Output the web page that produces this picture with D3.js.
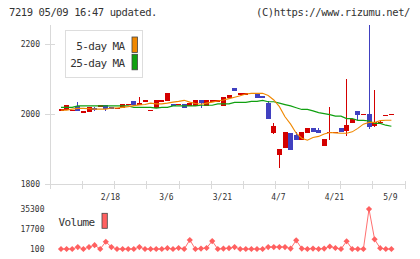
<!DOCTYPE html>
<html>
<head>
<meta charset="utf-8">
<script src="https://cdn.jsdelivr.net/npm/d3@7"></script>
<style>
  html, body { margin: 0; padding: 0; background: #fff; }
  svg { display: block; }
  text { font-family: 'DejaVu Sans Mono', monospace; fill: #333; }
</style>
</head>
<body>
<svg id="chart" width="420" height="259"></svg>
<script>
// daily bars, oldest first
let open = [2013, 2011, 2012, 2022, 2003, 2006, 2017, 2021, 2026, 2020,
  2015, 2017, 2029, 2037, 2026, 2039, 2011, 2016, 2039, 2038,
  2029, 2029, 2029, 2023, 2023, 2040, 2023, 2039, 2039, 2024,
  2046, 2074, 2059, 2059, 2060, 2057, 2051, 2031, 1946, 1883,
  1903, 1946, 1940, 1926, 1946, 1960, 1954, 1909, 1948, 1949,
  1960, 1951, 1974, 2009, 2000, 2000, 1966, 1974, 1997, 2000]
let high = [2013, 2026, 2012, 2035, 2009, 2020, 2021, 2026, 2026, 2020,
  2018, 2029, 2029, 2037, 2049, 2039, 2011, 2040, 2039, 2060,
  2029, 2029, 2029, 2031, 2040, 2040, 2040, 2039, 2039, 2049,
  2054, 2074, 2059, 2059, 2060, 2057, 2051, 2037, 1974, 1900,
  1949, 1946, 1949, 1949, 1960, 1960, 1960, 1929, 2020, 1949,
  1960, 2100, 1986, 2009, 2000, 2254, 2069, 1980, 1997, 2000]
let low = [2013, 2011, 2012, 2009, 2003, 2006, 2009, 2021, 2008, 2015,
  2015, 2017, 2029, 2027, 2026, 2039, 2011, 2016, 2039, 2038,
  2023, 2029, 2017, 2023, 2023, 2017, 2023, 2039, 2039, 2024,
  2046, 2066, 2059, 2059, 2056, 2046, 2046, 1986, 1943, 1845,
  1903, 1897, 1926, 1926, 1946, 1949, 1946, 1909, 1926, 1949,
  1949, 1937, 1974, 1983, 2000, 1957, 1963, 1971, 1997, 2000]
let close = [2013, 2026, 2012, 2009, 2009, 2020, 2012, 2026, 2013, 2015,
  2018, 2029, 2029, 2027, 2031, 2039, 2011, 2040, 2039, 2060,
  2023, 2029, 2017, 2031, 2040, 2031, 2040, 2039, 2039, 2049,
  2054, 2066, 2059, 2059, 2056, 2046, 2046, 1986, 1966, 1900,
  1949, 1897, 1926, 1949, 1960, 1949, 1946, 1929, 1950, 1949,
  1949, 1969, 1986, 1997, 2000, 1963, 1977, 1977, 1997, 2000]
let ma5 = [2011, 2011, 2014, 2016, 2016, 2015, 2014, 2014, 2014, 2017,
  2017, 2019, 2021, 2024, 2026, 2027, 2031, 2029, 2029, 2031,
  2034, 2036, 2039, 2034, 2030, 2028, 2031, 2034, 2037, 2040,
  2044, 2048, 2052, 2057, 2059, 2059, 2059, 2053, 2040, 2021,
  1992, 1971, 1945, 1931, 1925, 1933, 1936, 1943, 1947, 1946,
  1945, 1945, 1949, 1959, 1971, 1976, 1976, 1981, 1982, 1982]
let ma25 = [2019, 2019, 2019, 2023, 2023, 2023, 2023, 2023, 2023, 2023,
  2023, 2023, 2023, 2019, 2019, 2019, 2019, 2017, 2019, 2019,
  2023, 2023, 2023, 2023, 2023, 2025, 2025, 2025, 2029, 2029,
  2029, 2033, 2033, 2033, 2036, 2036, 2039, 2035, 2035, 2031,
  2027, 2023, 2018, 2013, 2013, 2009, 2004, 2001, 1998, 1994,
  1994, 1987, 1987, 1982, 1982, 1980, 1973, 1973, 1968, 1965]
let volume = [100, 100, 100, 1800, 100, 1800, 3500, 100, 6500, 1800,
  100, 100, 100, 100, 1800, 100, 100, 100, 100, 800,
  100, 1000, 100, 8000, 100, 500, 1000, 7100, 100, 500,
  800, 1800, 100, 100, 100, 100, 100, 1800, 1800, 1800,
  1800, 500, 7700, 500, 100, 500, 100, 500, 2300, 1000,
  100, 6900, 100, 100, 100, 35200, 8600, 800, 100, 100]

let dateLabels = ['2/18', '3/6', '3/21', '4/7', '4/21', '5/9']
let dateIdx = [9, 19, 29, 39, 49, 59]
let priceTicks = [1800, 2000, 2200]
let volTicks = [100, 17700, 35300]

let colors = {up: '#d40000', down: '#4040c0', ma5: '#f08800', ma25: '#10a010', vol: '#ff6060', axis: '#d9d9d9'}

let svg = d3.select('#chart')
let n = close.length

let x = d3.scaleLinear().domain([0, n - 1]).range([61, 391.4])
let y = d3.scaleLinear().domain([1800, 2200]).range([184, 44])
let yv = d3.scaleLinear().domain([100, 35300]).range([249, 209])
let grid = d3.scaleLinear().domain([0, 11]).range([50, 405])

// header
svg.append('text').attr('x', 9).attr('y', 16)
  .style('font-size', '10.5px').style('letter-spacing', '-0.4px')
  .text('7219 05/09 16:47 updated.')
svg.append('text').attr('x', 410).attr('y', 16).attr('text-anchor', 'end')
  .style('font-size', '10.5px').style('letter-spacing', '-0.4px')
  .text('(C)https://www.rizumu.net/')

// axes
let ax = svg.append('g').attr('stroke', colors.axis).attr('stroke-width', 1).attr('shape-rendering', 'crispEdges')
ax.append('line').attr('x1', 50).attr('x2', 50).attr('y1', 25).attr('y2', 189)
ax.append('line').attr('x1', 50).attr('x2', 405).attr('y1', y(1800)).attr('y2', y(1800))
ax.selectAll('.yt').data(priceTicks).enter().append('line')
  .attr('x1', 45).attr('x2', 55).attr('y1', d => y(d)).attr('y2', d => y(d))
ax.selectAll('.xt').data(d3.range(1, 12)).enter().append('line')
  .attr('x1', d => grid(d)).attr('x2', d => grid(d)).attr('y1', 181).attr('y2', 189)

svg.selectAll('.ylab').data(priceTicks).enter().append('text')
  .attr('x', 40).attr('y', d => y(d)).attr('dy', '0.35em').attr('text-anchor', 'end')
  .style('font-size', '8px').text(d => d)
svg.selectAll('.xlab').data(dateLabels).enter().append('text')
  .attr('x', (d, i) => x(dateIdx[i]) - 1).attr('y', 200).attr('text-anchor', 'middle')
  .style('font-size', '8px').text(d => d)

// candles
let cw = 5
let candles = svg.append('g').attr('shape-rendering', 'crispEdges')
d3.range(n).forEach(function (i) {
  let c = close[i] >= open[i] ? colors.up : colors.down
  let g = candles.append('g')
  if (high[i] > Math.max(open[i], close[i]) || low[i] < Math.min(open[i], close[i])) {
    g.append('rect')
      .attr('x', x(i) - 0.5).attr('width', 1)
      .attr('y', Math.max(y(high[i]), 25)).attr('height', y(low[i]) - Math.max(y(high[i]), 25))
      .attr('fill', c)
  }
  let top = y(Math.max(open[i], close[i]))
  let h = Math.max(y(Math.min(open[i], close[i])) - top, 1.2)
  g.append('rect')
    .attr('x', x(i) - cw / 2).attr('width', cw)
    .attr('y', top).attr('height', h)
    .attr('fill', c)
})

// moving averages
let line = d3.line().x((d, i) => x(i)).y(d => y(d))
svg.append('path').datum(ma25).attr('d', line)
  .attr('fill', 'none').attr('stroke', colors.ma25).attr('stroke-width', 1.2)
svg.append('path').datum(ma5).attr('d', line)
  .attr('fill', 'none').attr('stroke', colors.ma5).attr('stroke-width', 1.1)

// legend
let lg = svg.append('g')
lg.append('rect').attr('x', 65.5).attr('y', 30.5).attr('width', 77).attr('height', 47)
  .attr('fill', '#fff').attr('stroke', '#ddd')
lg.append('text').attr('x', 124.5).attr('y', 50).attr('text-anchor', 'end')
  .style('font-size', '11px').style('letter-spacing', '-0.6px').text('5-day MA')
lg.append('text').attr('x', 124.5).attr('y', 67.3).attr('text-anchor', 'end')
  .style('font-size', '11px').style('letter-spacing', '-0.6px').text('25-day MA')
lg.append('rect').attr('x', 132).attr('y', 37).attr('width', 5.5).attr('height', 15.5)
  .attr('fill', colors.ma5).attr('stroke', '#444').attr('stroke-width', 0.8)
lg.append('rect').attr('x', 132).attr('y', 54.3).attr('width', 5.5).attr('height', 15.5)
  .attr('fill', colors.ma25).attr('stroke', '#444').attr('stroke-width', 0.8)

// volume
svg.selectAll('.vlab').data(volTicks).enter().append('text')
  .attr('x', 44.5).attr('y', d => yv(d)).attr('dy', '0.35em').attr('text-anchor', 'end')
  .style('font-size', '8px').text(d => d)
svg.append('text').attr('x', 58.5).attr('y', 225.7)
  .style('font-size', '11px').style('letter-spacing', '-0.6px').text('Volume')
svg.append('rect').attr('x', 102).attr('y', 213.3).attr('width', 5.3).attr('height', 15)
  .attr('fill', colors.vol).attr('stroke', '#444').attr('stroke-width', 0.8)

let vline = d3.line().x((d, i) => x(i)).y(d => yv(d))
svg.append('path').datum(volume).attr('d', vline)
  .attr('fill', 'none').attr('stroke', colors.vol).attr('stroke-width', 0.9)
svg.selectAll('.vpt').data(volume).enter().append('path')
  .attr('d', d3.symbol().type(d3.symbolSquare).size(19))
  .attr('transform', (d, i) => 'translate(' + x(i) + ',' + yv(d) + ') rotate(45)')
  .attr('fill', colors.vol)
</script>
</body>
</html>
